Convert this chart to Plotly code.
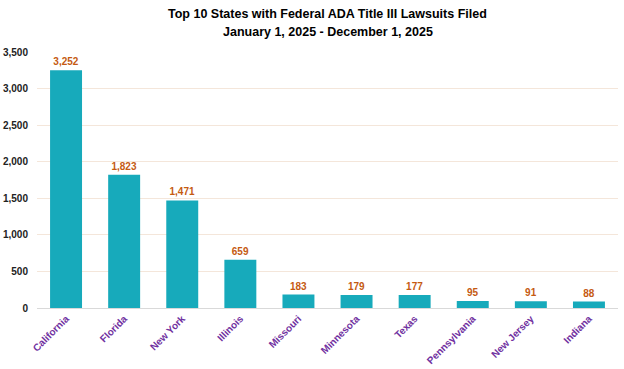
import plotly.graph_objects as go

states = ["California", "Florida", "New York", "Illinois", "Missouri",
          "Minnesota", "Texas", "Pennsylvania", "New Jersey", "Indiana"]
lawsuits = [3252, 1823, 1471, 659, 183, 179, 177, 95, 91, 88]
y_ticks = [0, 500, 1000, 1500, 2000, 2500, 3000, 3500]
title_lines = ["Top 10 States with Federal ADA Title III Lawsuits Filed",
               "January 1, 2025 - December 1, 2025"]

FONT = "Liberation Sans, Arial"

fig = go.Figure(go.Bar(
    x=states, y=lawsuits,
    marker=dict(color="#17AABB", line=dict(width=0)),
    text=[f"{v:,}" for v in lawsuits],
    textposition="outside",
    textfont=dict(family=FONT, size=10, color="#C55A11"),
    texttemplate="<b>%{text}</b>",
    cliponaxis=False,
))

for line, shift in zip(title_lines, [38, 20]):
    fig.add_annotation(
        text=f"<b>{line}</b>", xref="paper", yref="paper",
        x=0.5, y=1, xanchor="center", yanchor="middle", yshift=shift,
        showarrow=False,
        font=dict(family=FONT, size=12.5, color="#000000"),
    )

fig.update_layout(
    width=624, height=369,
    margin=dict(l=37, r=6, t=52, b=61),
    paper_bgcolor="white", plot_bgcolor="white",
    bargap=0.45,
    showlegend=False,
    xaxis=dict(
        tickangle=-45,
        tickfont=dict(family=FONT, size=10, color="#7030A0"),
        tickprefix="<b>", ticksuffix="</b>",
        showline=True, linecolor="#D9D9D9", linewidth=1,
        ticks="",
        automargin=False,
    ),
    yaxis=dict(
        range=[0, 3500],
        tickvals=y_ticks,
        ticktext=[f"<b>{v:,}</b>" for v in y_ticks],
        tickfont=dict(family=FONT, size=10, color="#222222"),
        ticklabelstandoff=8,
        showgrid=True, gridcolor="#F4E6DA", gridwidth=1,
        zeroline=False,
        ticks="",
        automargin=False,
    ),
)

fig.write_html("out.html", config={"displayModeBar": False},
               post_script="document.body.style.margin='0';")
